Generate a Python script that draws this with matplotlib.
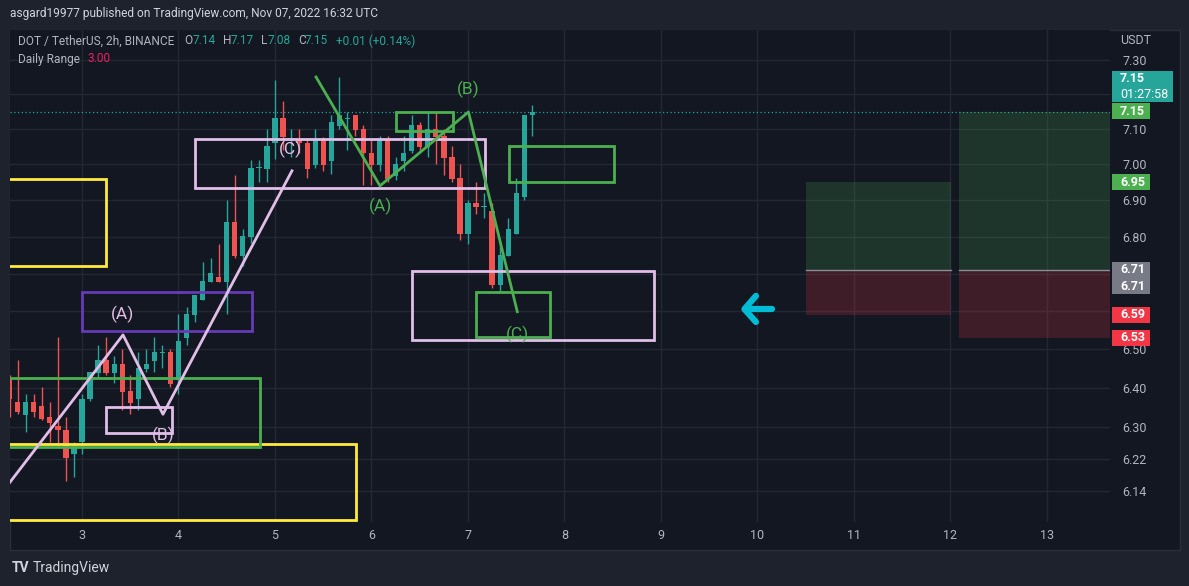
import matplotlib
matplotlib.use('Agg')
import matplotlib.pyplot as plt
import matplotlib.transforms as mtrans
from matplotlib.patches import Rectangle
from matplotlib.ticker import NullLocator
import numpy as np
import pandas as pd

plt.rcParams['font.family'] = ['Roboto', 'DejaVu Sans']

# DOT/USDT 2h candles, Nov 2 06:00 -> Nov 7 16:00 (UTC)
times = pd.date_range('2022-11-02 06:00', periods=66, freq='2h')
opens = [6.425, 6.363, 6.329, 6.363, 6.352, 6.324, 6.303, 6.293, 6.231, 6.261,
         6.370, 6.438, 6.471, 6.438, 6.461, 6.392, 6.370, 6.448, 6.469, 6.490,
         6.492, 6.420, 6.529, 6.590, 6.629, 6.677, 6.691, 6.677, 6.840, 6.748,
         6.799, 6.990, 6.987, 7.061, 7.132, 7.070, 7.072, 7.061, 6.998, 7.072,
         7.010, 7.109, 7.129, 7.141, 7.101, 7.033, 6.998, 7.072, 6.967, 7.010,
         7.039, 7.112, 7.050, 7.101, 7.081, 7.021, 6.962, 6.807, 6.893, 6.882,
         6.871, 6.669, 6.748, 6.807, 6.909, 7.140]
highs = [6.433, 6.471, 6.383, 6.383, 6.402, 6.363, 6.532, 6.324, 6.263, 6.383,
         6.440, 6.510, 6.532, 6.482, 6.500, 6.433, 6.492, 6.500, 6.532, 6.510,
         6.500, 6.592, 6.611, 6.643, 6.731, 6.742, 6.780, 6.901, 6.970, 6.821,
         7.012, 7.012, 7.101, 7.242, 7.181, 7.101, 7.101, 7.072, 7.101, 7.078,
         7.141, 7.250, 7.149, 7.141, 7.112, 7.072, 7.081, 7.081, 7.021, 7.081,
         7.141, 7.120, 7.149, 7.149, 7.101, 7.052, 7.001, 6.901, 6.951, 6.920,
         6.893, 6.783, 6.851, 6.962, 7.141, 7.170]
lows = [6.324, 6.332, 6.286, 6.324, 6.318, 6.263, 6.253, 6.164, 6.174, 6.233,
        6.365, 6.425, 6.433, 6.412, 6.342, 6.332, 6.342, 6.440, 6.440, 6.451,
        6.402, 6.384, 6.510, 6.571, 6.629, 6.677, 6.677, 6.592, 6.742, 6.721,
        6.783, 6.951, 6.951, 7.015, 7.041, 7.021, 7.033, 6.962, 6.990, 6.982,
        6.973, 7.101, 7.041, 7.081, 6.943, 6.943, 6.982, 6.951, 6.957, 6.982,
        7.033, 7.033, 7.021, 7.001, 6.970, 6.951, 6.791, 6.780, 6.862, 6.851,
        6.661, 6.651, 6.748, 6.807, 6.901, 7.080]
closes = [6.370, 6.339, 6.363, 6.339, 6.321, 6.311, 6.291, 6.221, 6.253, 6.372,
          6.440, 6.471, 6.438, 6.461, 6.389, 6.361, 6.451, 6.461, 6.492, 6.492,
          6.410, 6.521, 6.592, 6.643, 6.680, 6.702, 6.677, 6.840, 6.748, 6.802,
          6.990, 6.992, 7.052, 7.132, 7.078, 7.075, 7.061, 6.987, 7.072, 6.998,
          7.120, 7.141, 7.131, 7.098, 7.033, 6.998, 7.072, 6.959, 7.001, 7.033,
          7.112, 7.050, 7.101, 7.078, 7.018, 6.959, 6.807, 6.893, 6.882, 6.884,
          6.669, 6.750, 6.821, 6.920, 7.141, 7.150]

# drawings: x in day-of-November, y in price
rect_x0 = [2.0, 2.0, 2.0, 3.0, 3.249, 4.171, 6.420, 6.254, 7.425, 7.083]
rect_x1 = [3.249, 5.839, 4.845, 4.762, 3.933, 7.176, 8.927, 6.845, 8.513, 7.850]
rect_lo = [6.721, 6.069, 6.249, 6.547, 6.284, 6.934, 6.524, 7.095, 6.951, 6.532]
rect_hi = [6.959, 6.258, 6.425, 6.651, 6.350, 7.072, 6.707, 7.148, 7.053, 6.651]
rect_col = ['#ffeb3b', '#ffeb3b', '#4caf50', '#673ab7', '#e1bee7', '#e1bee7',
            '#e1bee7', '#4caf50', '#4caf50', '#4caf50']

pink_wave_x = [2.2, 3.425, 3.839, 5.176]
pink_wave_y = [6.145, 6.537, 6.332, 6.982]
pink_lbl = ['(A)', '(B)', '(C)']
pink_lbl_x = [3.415, 3.839, 5.160]
pink_lbl_y = [6.590, 6.278, 7.041]

green_wave_x = [5.425, 6.088, 7.005, 7.511]
green_wave_y = [7.250, 6.940, 7.149, 6.598]
green_lbl = ['(A)', '(B)', '(C)']
green_lbl_x = [6.098, 7.005, 7.515]
green_lbl_y = [6.884, 7.213, 6.539]

# long position tools
pos_x0 = [10.503, 12.088]
pos_x1 = [12.005, 14.0]
pos_entry = [6.71, 6.71]
pos_target = [6.95, 7.15]
pos_stop = [6.59, 6.53]

arrow_x = [9.984, 9.865, 9.984]
arrow_y = [6.640, 6.605, 6.571]
arrow_bar_x = [9.881, 10.150]

yticks = [7.30, 7.20, 7.10, 7.00, 6.90, 6.80, 6.70, 6.60, 6.50, 6.40, 6.30, 6.22, 6.14]
hidden_ticks = [7.20, 6.70, 6.60]  # covered by price badges
xticks = [3, 4, 5, 6, 7, 8, 9, 10, 11, 12, 13]

W, H = 1189, 586
BG = '#131722'
fig = plt.figure(figsize=(W / 100, H / 100), dpi=100, facecolor='#1e222d')
panel = Rectangle((10 / W, 1 - 550 / H), 1170 / W, 520 / H,
                  transform=fig.transFigure, fc=BG, ec='#2a2e39', lw=1, zorder=-5)
fig.patches.append(panel)
ax = fig.add_axes([10 / W, 1 - 522 / H, 1100 / W, 492 / H])
ax.set_facecolor(BG)
ax.set_yscale('log')
ax.set_ylim(6.064, 7.388)
ax.set_xlim(2.254, 13.653)
for s in ax.spines.values():
    s.set_visible(False)

ax.set_yticks(yticks)
ax.set_yticklabels(['' if v in hidden_ticks else '%.2f' % v for v in yticks])
ax.yaxis.set_minor_locator(NullLocator())
ax.yaxis.tick_right()
ax.set_xticks(xticks)
ax.set_xticklabels([str(v) for v in xticks])
ax.tick_params(axis='y', length=0, pad=9, labelsize=9, colors='#b2b5be')
ax.tick_params(axis='x', length=0, pad=5, labelsize=9, colors='#b2b5be')
ax.grid(True, color='#232733', lw=1, zorder=0)
ax.set_axisbelow(True)

# candles
tx = np.array(times.day + times.hour / 24.0)
o = np.array(opens); c = np.array(closes)
cols = np.where(c >= o, '#26a69a', '#ef5350')
ax.vlines(tx, lows, highs, colors=cols, lw=1, zorder=3)
bot = np.minimum(o, c)
hgt = np.maximum(np.abs(c - o), 0.002)
ax.bar(tx, hgt, bottom=bot, width=0.055, color=cols, lw=0, zorder=3)

ax.axhline(closes[-1], color='#26a69a', lw=0.9, ls=(0, (1, 2)), zorder=2)

# rectangles
for x0, x1, lo, hi, col in zip(rect_x0, rect_x1, rect_lo, rect_hi, rect_col):
    ax.add_patch(Rectangle((x0, lo), x1 - x0, hi - lo, fill=False, ec=col, lw=2, zorder=4))

# elliott waves
ax.plot(pink_wave_x, pink_wave_y, color='#e1bee7', lw=2, zorder=5)
for s, x, y in zip(pink_lbl, pink_lbl_x, pink_lbl_y):
    ax.text(x, y, s, color='#e1bee7', fontsize=12.5, ha='center', va='center', zorder=6)
ax.plot(green_wave_x, green_wave_y, color='#4caf50', lw=2, zorder=5)
for s, x, y in zip(green_lbl, green_lbl_x, green_lbl_y):
    ax.text(x, y, s, color='#4caf50', fontsize=12.5, ha='center', va='center', zorder=6)

# long positions
for x0, x1, e, t, st in zip(pos_x0, pos_x1, pos_entry, pos_target, pos_stop):
    ax.add_patch(Rectangle((x0, e), x1 - x0, t - e, fc='#4caf50', alpha=0.2, lw=0, zorder=2))
    ax.add_patch(Rectangle((x0, st), x1 - x0, e - st, fc='#f23645', alpha=0.2, lw=0, zorder=2))
    ax.plot([x0, x1], [e, e], color='#8a8d96', lw=1, zorder=2)

# arrow
ax.plot(arrow_x, arrow_y, color='#00bcd4', lw=4.5, solid_capstyle='round',
        solid_joinstyle='round', zorder=6)
ax.plot(arrow_bar_x, [arrow_y[1]] * 2, color='#00bcd4', lw=4.5,
        solid_capstyle='round', zorder=6)

# price scale badges
K = 492 / np.log(7.388 / 6.064)
bt = mtrans.blended_transform_factory(ax.transAxes, ax.transData)


def badge(p, col, lines, hpx=16, wpx=38):
    lo = p * np.exp(-hpx / 2 / K)
    hi = p * np.exp(hpx / 2 / K)
    ax.add_patch(Rectangle((1 + 2 / 1100, lo), wpx / 1100, hi - lo, transform=bt,
                           fc=col, lw=0, clip_on=False, zorder=7))
    n = len(lines)
    for k, s in enumerate(lines):
        yy = p * np.exp((hpx / 2 - (k + 0.5) * hpx / n) / K)
        ax.text(1 + 10 / 1100, yy, s, transform=bt, color='white', fontsize=9,
                fontweight='bold' if k == 0 else 'normal', va='center', ha='left',
                clip_on=False, zorder=8)


badge(7.222, '#26a69a', ['7.15', '01:27:58'], hpx=31, wpx=61)
badge(7.151, '#4caf50', ['7.15'])
badge(6.95, '#4caf50', ['6.95'])
badge(6.71, '#787b86', ['6.71'])
badge(6.666, '#787b86', ['6.71'])
badge(6.59, '#f23645', ['6.59'])
badge(6.53, '#f23645', ['6.53'])
ax.text(1 + 10 / 1100, 1 - 10 / 492, 'USDT', transform=ax.transAxes, color='#b2b5be',
        fontsize=9, va='center', ha='left')


def ftext(x, y, s, **kw):
    fig.text(x / W, 1 - y / H, s, va='center', ha='left', **kw)


FS = 8.6
ftext(10, 14, 'asgard19977 published on TradingView.com, Nov 07, 2022 16:32 UTC',
      color='#d1d4dc', fontsize=FS)
ftext(18, 41, 'DOT / TetherUS, 2h, BINANCE', color='#b2b5be', fontsize=FS)
for x, s in [(184, 'O'), (223, 'H'), (261, 'L'), (298, 'C')]:
    ftext(x, 41, s, color='#b2b5be', fontsize=FS)
for x, s in [(193, '7.14'), (231, '7.17'), (268, '7.08'), (305, '7.15'),
             (336, '+0.01 (+0.14%)')]:
    ftext(x, 41, s, color='#26a69a', fontsize=FS)
ftext(18, 59, 'Daily Range', color='#b2b5be', fontsize=FS)
ftext(88, 59, '3.00', color='#e91e63', fontsize=FS)

ftext(12, 568, 'TV', color='#d1d4dc', fontsize=10, fontweight='bold')
ftext(33, 568, 'TradingView', color='#d1d4dc', fontsize=10)

fig.savefig('out.png', dpi=100, facecolor=fig.get_facecolor())
